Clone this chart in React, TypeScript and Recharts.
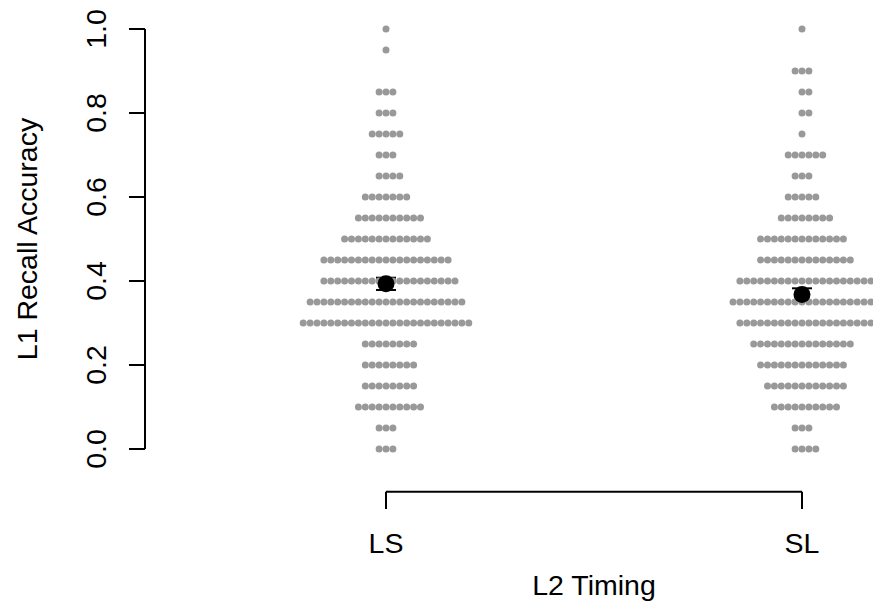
import { ScatterChart, Scatter, XAxis, YAxis, ErrorBar, ReferenceLine, Customized } from 'recharts';

// score levels (rows of the swarm) and how many participants sit on each row
const LEVELS = [0, 0.05, 0.1, 0.15, 0.2, 0.25, 0.3, 0.35, 0.4, 0.45, 0.5, 0.55, 0.6, 0.65, 0.7, 0.75, 0.8, 0.85, 0.9, 0.95, 1];
const LS_COUNTS = [3, 3, 10, 8, 8, 8, 25, 23, 20, 19, 13, 10, 7, 4, 3, 5, 3, 3, 0, 1, 1];
const SL_COUNTS = [4, 3, 10, 12, 13, 15, 20, 22, 20, 14, 13, 8, 5, 3, 6, 1, 2, 2, 3, 0, 1];
const GROUPS = ['LS', 'SL'];
const Y_TICKS = [0, 0.2, 0.4, 0.6, 0.8, 1];

const FONT = '"Liberation Sans", Arial, Helvetica, sans-serif';
const FS = 28.5;
const VIEW_W = 873;
const CHART_W = 920; // drawn wider and cut at 873, the original crops the SL column too
const H = 604;
const Y_AXIS_W = 145;
const X_AXIS_H = 155;
const PX_PER_GROUP = 416;
const X_DOMAIN = [1 - (386 - Y_AXIS_W) / PX_PER_GROUP, 2 + (CHART_W - 802) / PX_PER_GROUP];
const DOT_STEP = 6.9 / PX_PER_GROUP;
const BRACKET_Y = -(491.7 - 449) / 420;

function swarm(counts: number[], gx: number) {
  const pts: { x: number; y: number }[] = [];
  counts.forEach((n, i) => {
    for (let j = 0; j < n; j++) {
      // square grid: 0, +1, -1, +2, -2 ...
      const k = j === 0 ? 0 : j % 2 === 1 ? (j + 1) / 2 : -j / 2;
      pts.push({ x: gx + k * DOT_STEP, y: LEVELS[i] });
    }
  });
  return pts;
}

function summary(counts: number[], gx: number) {
  let n = 0;
  let s = 0;
  let ss = 0;
  counts.forEach((c, i) => {
    n += c;
    s += c * LEVELS[i];
    ss += c * LEVELS[i] * LEVELS[i];
  });
  const m = s / n;
  const sd = Math.sqrt((ss - n * m * m) / (n - 1));
  return { x: gx, y: m, err: sd / Math.sqrt(n) };
}

const lsDots = swarm(LS_COUNTS, 1);
const slDots = swarm(SL_COUNTS, 2);
const means = [summary(LS_COUNTS, 1), summary(SL_COUNTS, 2)];

const GreyDot = (p: any) => <circle cx={p.cx} cy={p.cy} r={3.5} fill="#999999" />;
const BlackDot = (p: any) => <circle cx={p.cx} cy={p.cy} r={8.5} fill="#000000" />;

const YTick = ({ y, payload }: any) => {
  const tx = 106;
  return (
    <text x={tx} y={y} transform={`rotate(-90 ${tx} ${y})`} textAnchor="middle" fontSize={FS} fontFamily={FONT} fill="#000">
      {Number(payload.value).toFixed(1)}
    </text>
  );
};

const XTick = ({ x, payload }: any) => (
  <g>
    <line x1={x} x2={x} y1={491.7} y2={509} stroke="#000" strokeWidth={2} />
    <text x={x} y={553} textAnchor="middle" fontSize={FS} fontFamily={FONT} fill="#000">
      {GROUPS[payload.value - 1]}
    </text>
  </g>
);

const Titles = () => (
  <g fontFamily={FONT} fontSize={FS} fill="#000">
    <text x={594} y={595} textAnchor="middle">L2 Timing</text>
    <text x={37} y={239} transform="rotate(-90 37 239)" textAnchor="middle">L1 Recall Accuracy</text>
  </g>
);

export default function App() {
  return (
    <div style={{ position: 'absolute', left: 0, top: 0, width: VIEW_W, height: H, overflow: 'hidden', background: '#fff' }}>
      <ScatterChart width={CHART_W} height={H} margin={{ top: 29, right: 0, bottom: 0, left: 0 }}>
        <XAxis
          type="number"
          dataKey="x"
          domain={X_DOMAIN}
          ticks={[1, 2]}
          height={X_AXIS_H}
          axisLine={false}
          tickLine={false}
          tick={<XTick />}
          allowDataOverflow
        />
        <YAxis
          type="number"
          dataKey="y"
          domain={[0, 1]}
          ticks={Y_TICKS}
          width={Y_AXIS_W}
          tickSize={16}
          axisLine={{ stroke: '#000', strokeWidth: 2 }}
          tickLine={{ stroke: '#000', strokeWidth: 2 }}
          tick={<YTick />}
        />
        <ReferenceLine
          segment={[{ x: 1, y: BRACKET_Y }, { x: 2, y: BRACKET_Y }]}
          stroke="#000"
          strokeWidth={2}
          ifOverflow="visible"
        />
        <Scatter data={lsDots} shape={GreyDot} isAnimationActive={false} />
        <Scatter data={slDots} shape={GreyDot} isAnimationActive={false} />
        <Scatter data={means} shape={BlackDot} isAnimationActive={false}>
          <ErrorBar dataKey="err" direction="y" width={10} stroke="#000" strokeWidth={2} />
        </Scatter>
        <Customized component={Titles} />
      </ScatterChart>
    </div>
  );
}
